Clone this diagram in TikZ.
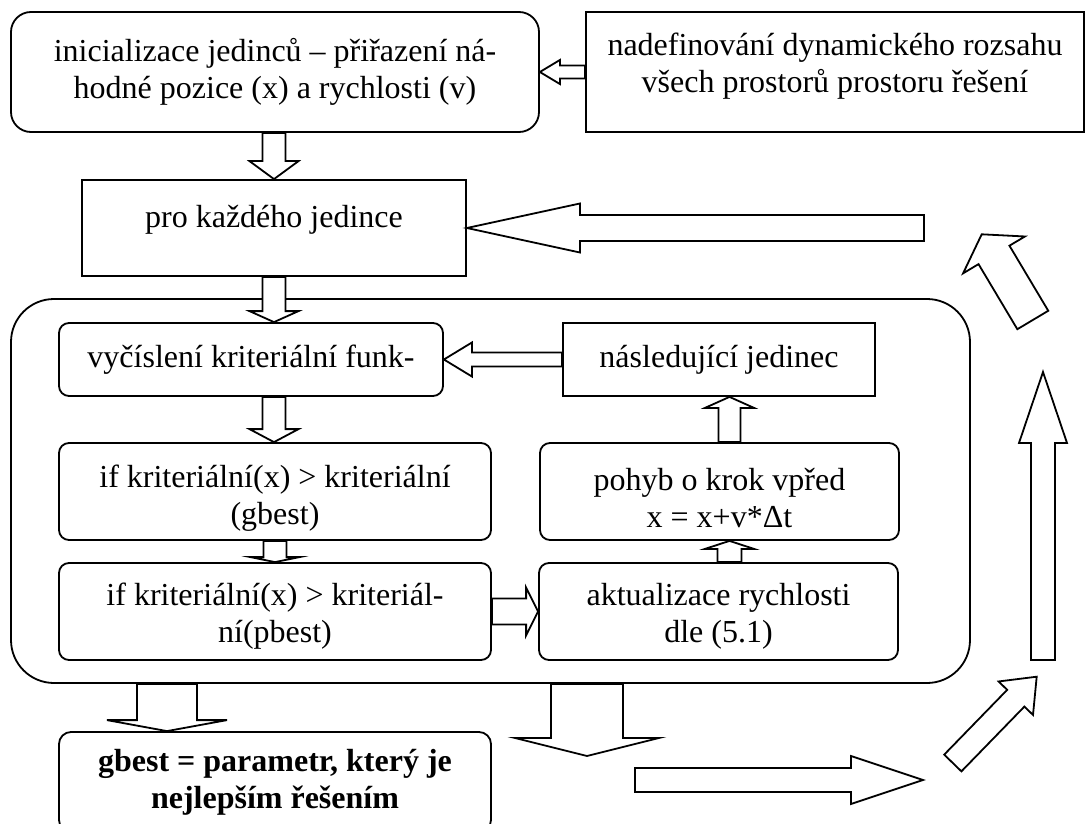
\documentclass[tikz,border=0pt]{standalone}
\usepackage{fontspec}
\setmainfont{Liberation Serif}
\usetikzlibrary{calc,positioning}

\newcommand{\fatarrow}[5]{%
  \coordinate (fa1) at (#1);
  \coordinate (fa2) at (#2);
  \coordinate (fah) at ($(fa2)!#5!(fa1)$);
  \draw[fat] ($(fa1)!#3!90:(fa2)$) -- ($(fah)!#3!90:(fa2)$) -- ($(fah)!#4!90:(fa2)$) -- (fa2)
    -- ($(fah)!#4!-90:(fa2)$) -- ($(fah)!#3!-90:(fa2)$) -- ($(fa1)!#3!-90:(fa2)$) -- cycle;}

\begin{document}
\begin{tikzpicture}[x=1pt, y=-1pt, line join=miter,
  box/.style={draw, line width=1.8pt, align=center, inner sep=0pt,
    font=\fontsize{32}{37}\selectfont},
  rbox/.style={box, rounded corners=10pt},
  fat/.style={draw, fill=white, line width=1.8pt}]

\useasboundingbox (0,0) rectangle (1087,824);
\clip (0,0) rectangle (1087,824);

\node[box, rounded corners=20pt, minimum width=528pt, minimum height=120pt] (init) at (275,72)
  {inicializace jedinců – přiřazení ná-\\hodné pozice (x) a rychlosti (v)};
\node[box, minimum width=498pt, minimum height=120pt, text depth=19pt] (range) at (835,72)
  {nadefinování dynamického rozsahu\\všech prostorů prostoru řešení};
\node[box, minimum width=384pt, minimum height=96pt, text depth=23pt] (each) at (274,228)
  {pro každého jedince};

\node[box, rounded corners=43pt, minimum width=959pt, minimum height=384pt] (loop) at (490.5,491) {};
\node[rbox, minimum width=384pt, minimum height=73pt] (eval) at (251,359.5) {vyčíslení kriteriální funk-};
\node[box, minimum width=312pt, minimum height=73pt] (next) at (719,359.5) {následující jedinec};
\node[rbox, minimum width=432pt, minimum height=97pt, text height=73pt] (ifg) at (275,491.5)
  {if kriteriální(x) > kriteriální\\(gbest)};
\node[rbox, minimum width=359pt, minimum height=97pt, text height=73pt] (move) at (719.5,491.5)
  {pohyb o krok vpřed\\x = x+v*Δt};
\node[rbox, minimum width=432pt, minimum height=97pt, text height=69pt] (ifp) at (275,611.5)
  {if kriteriální(x) > kriteriál-\\ní(pbest)};
\node[rbox, minimum width=359pt, minimum height=97pt, text height=69pt] (upd) at (718.5,611.5)
  {aktualizace rychlosti\\dle (5.1)};

\node[box, rounded corners=12pt, minimum width=432pt, minimum height=100pt,
  font=\fontsize{32}{37}\selectfont\bfseries] (best) at (275,782)
  {gbest = parametr, který je\\nejlepším řešením};

\fatarrow{range.west}{init.east}{6.5pt}{12pt}{20pt}
\fatarrow{each.north |- init.south}{each.north}{11.5pt}{24.5pt}{18pt}
\fatarrow{each.south}{each.south |- eval.north}{11.5pt}{24.5pt}{11pt}
\fatarrow{each.south |- eval.south}{each.south |- ifg.north}{11.5pt}{24.5pt}{13pt}
\fatarrow{ifg.south}{ifp.north}{11.5pt}{24.5pt}{5pt}
\fatarrow{ifp.east}{upd.west}{13pt}{24pt}{12pt}
\coordinate (mv) at ($(upd.north)+(11,0)$);
\fatarrow{mv}{mv |- move.south}{12pt}{24.5pt}{8pt}
\fatarrow{mv |- move.north}{mv |- next.south}{11pt}{24.5pt}{11pt}
\fatarrow{next.west}{eval.east}{7pt}{17pt}{28pt}

\coordinate (gb) at ($(best.north)+(-108,0)$);
\fatarrow{loop.south -| gb}{gb}{30pt}{60pt}{11pt}
\coordinate (outdn) at (587,756);
\fatarrow{loop.south -| outdn}{outdn}{36pt}{72pt}{18pt}

\coordinate (r1) at (635,780);
\coordinate (r2) at (923,780);
\fatarrow{r1}{r2}{12pt}{24pt}{72pt}
\coordinate (d1) at (952.8,763);
\coordinate (d2) at (1036.7,676.7);
\fatarrow{d1}{d2}{12pt}{24pt}{30pt}
\coordinate (u1) at (1043,660);
\coordinate (u2) at (1043,372);
\fatarrow{u1}{u2}{12pt}{24pt}{71pt}
\coordinate (l1) at (1032.8,320);
\coordinate (l2) at (981.7,234.3);
\fatarrow{l1}{l2}{18pt}{36pt}{24pt}
\coordinate (b1) at (924,228);
\fatarrow{b1}{b1 -| each.east}{13pt}{24.5pt}{113pt}
\end{tikzpicture}
\end{document}
